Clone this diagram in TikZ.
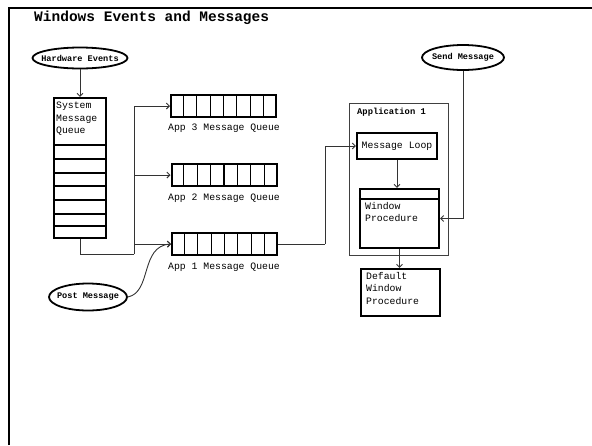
\documentclass[tikz,border=0pt]{standalone}
\usepackage{fontspec}
\setmonofont{Liberation Mono}
\usetikzlibrary{shapes.geometric,arrows.meta,calc}
\tikzset{
  thickbox/.style={draw, line width=2.2pt, inner sep=0pt},
  evt/.style={ellipse, draw, line width=1.8pt, inner ysep=0pt, font=\ttfamily\bfseries\fontsize{8.6}{9}\selectfont},
  queue/.style={draw, line width=2pt, minimum width=105pt, minimum height=22pt, inner sep=0pt},
  qlabel/.style={font=\ttfamily\fontsize{9.8}{12}\selectfont, inner sep=0pt},
  body/.style={font=\ttfamily\fontsize{9.8}{12.5}\selectfont, align=left, inner sep=0pt},
  conn/.style={line width=0.9pt, draw=black!80},
  arr/.style={conn, -{Straight Barb[length=3pt,width=6pt]}},
}
\begin{document}
\begin{tikzpicture}[x=1pt,y=-1pt]
\useasboundingbox (0,0) rectangle (592,445);
% frame
\draw[line width=2.5pt] (9,445) -- (9,8) -- (592,8);
\node[anchor=west, inner sep=0pt, font=\ttfamily\bfseries\fontsize{14.5}{15}\selectfont] (title) at (34,18) {Windows Events and Messages};

% Hardware events
\node[evt, inner xsep=-5.5pt, minimum width=95pt, minimum height=21pt] (hw) at (80,58) {Hardware Events};
% System message queue
\node[thickbox, minimum width=52pt, minimum height=140pt] (sysq) at (80,168) {};
\node[body, anchor=north west] (systxt) at (56,102) {System\\Message\\Queue};
\foreach \yy/\ww in {145/2,159/1.2,173/2,186/1.2,200/1.2,214/2,226/1.2}
  \draw[line width=\ww pt] (sysq.west |- 0,\yy) -- (sysq.east |- 0,\yy);
\draw[arr] (hw.south) -- (sysq.north);

% Queues
\node[queue] (app3) at (223.5,106) {};
\node[queue] (app2) at (224,175) {};
\node[queue] (app1) at (224.5,244) {};
\foreach \q in {app1,app2,app3}{
  \foreach \i in {1,...,7}{
    \draw[line width=1.2pt] ($(\q.north west)!\i/8!(\q.north east)$) -- ($(\q.south west)!\i/8!(\q.south east)$);
  }
}
\node[qlabel] (l3) at (224,128) {App 3 Message Queue};
\node[qlabel] (l2) at (224,198) {App 2 Message Queue};
\node[qlabel] (l1) at (224,267) {App 1 Message Queue};

% bus
\coordinate (bus) at (134,254);
\draw[conn] (sysq.south) |- (bus);
\draw[arr] (bus) |- (app3.west);
\draw[arr] (bus) |- (app2.west);
\draw[arr] (bus) |- (app1.west);

% Post message
\node[evt, inner xsep=-4pt, minimum width=78pt, minimum height=27pt] (post) at (88,297) {Post Message};
\draw[arr] (post.east) .. controls (152,292) and (140,246) .. (app1.west);

% Application 1
\draw[line width=1pt, draw=black!75] (349,103) rectangle (448,255);
\node[anchor=west, inner sep=0pt, font=\ttfamily\bfseries\fontsize{8.8}{10}\selectfont] (apptitle) at (357,112) {Application 1};
\node[thickbox, minimum width=80pt, minimum height=26pt, font=\ttfamily\fontsize{9.8}{12}\selectfont] (loop) at (397,146) {Message Loop};
\node[thickbox, minimum width=79pt, minimum height=59pt] (wp) at (399.5,218.5) {};
\draw[line width=2pt] (wp.west |- 0,199) -- (wp.east |- 0,199);
\node[body, anchor=north west] (wptxt) at (365,202) {Window\\Procedure};

\draw[arr] (loop.south) -- (loop.south |- wp.north);
\draw[conn] (app1.east) -- ++(47,0) coordinate (turn);
\draw[arr] (turn) |- (loop.west);

% Send message
\node[evt, inner xsep=-2pt, minimum width=82pt, minimum height=25pt] (send) at (463,57.5) {Send Message};
\draw[arr] (send.south) |- (wp.east);

% Default window procedure
\node[thickbox, minimum width=79pt, minimum height=47pt] (dwp) at (400.5,292.5) {};
\node[body, anchor=north west] (dwptxt) at (366,272) {Default\\Window\\Procedure};
\draw[arr] (wp.south) -- (wp.south |- dwp.north);
\end{tikzpicture}
\end{document}
